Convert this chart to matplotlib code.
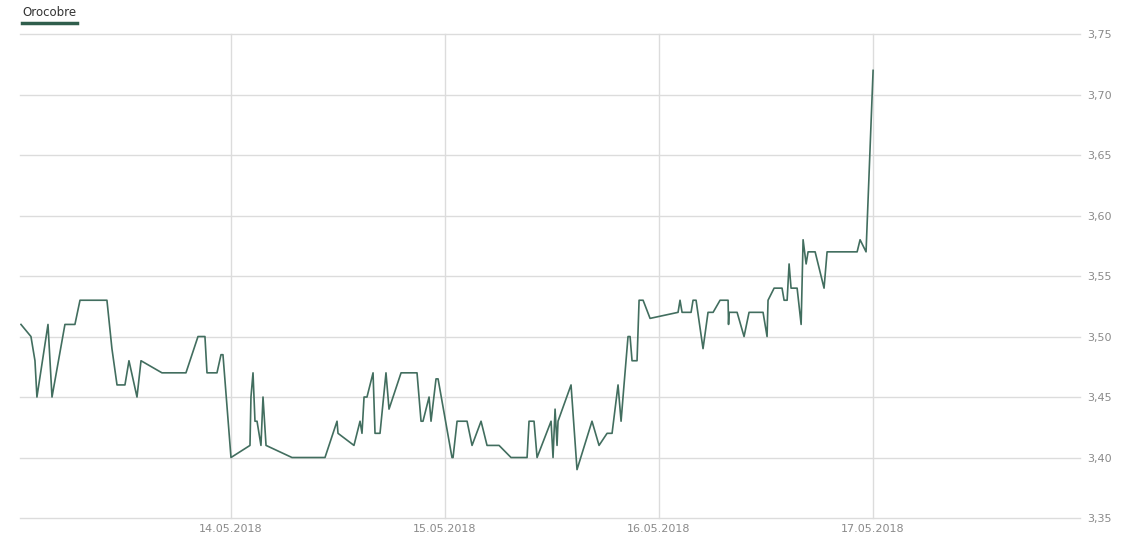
import numpy as np
import pandas as pd
import matplotlib
matplotlib.use("Agg")
import matplotlib.pyplot as plt
import matplotlib.dates as mdates
from matplotlib.ticker import FuncFormatter

# series: hours after 13.05.2018 00:00 and price
hours = [0.45, 1.57, 2.02, 2.24, 3.48, 3.93, 5.38, 6.50, 7.07, 10.09,
         10.65, 11.22, 12.11, 12.56, 13.46, 13.91, 16.26, 18.95, 20.30, 21.08,
         21.31, 22.43, 22.88, 23.10, 24.00, 26.13, 26.24, 26.47, 26.69, 26.92,
         27.36, 27.59, 27.93, 30.84, 34.54, 35.89, 36.00, 37.79, 38.47, 38.69,
         38.92, 39.25, 39.93, 40.15, 40.71, 41.38, 41.72, 43.07, 44.86, 45.31,
         45.53, 46.21, 46.43, 46.99, 47.22, 48.78, 48.90, 49.35, 50.47, 51.03,
         52.04, 52.71, 54.06, 55.40, 57.20, 57.42, 57.98, 58.32, 59.89, 60.11,
         60.34, 60.56, 60.67, 62.13, 62.80, 64.48, 65.27, 66.17, 66.73, 67.40,
         67.74, 68.07, 68.52, 68.75, 68.97, 69.53, 69.76, 70.21, 70.99, 74.13,
         74.35, 74.58, 75.59, 75.81, 76.15, 76.93, 77.49, 78.06, 78.84, 79.74,
         79.79, 79.85, 80.75, 81.53, 82.09, 83.66, 84.11, 84.22, 84.90, 85.79,
         86.02, 86.36, 86.58, 86.80, 87.48, 87.93, 88.15, 88.49, 88.71, 89.50,
         90.50, 90.84, 94.21, 94.54, 95.21, 96.00]
prices = [3.51, 3.50, 3.48, 3.45, 3.51, 3.45, 3.51, 3.51, 3.53, 3.53,
          3.49, 3.46, 3.46, 3.48, 3.45, 3.48, 3.47, 3.47, 3.50, 3.50,
          3.47, 3.47, 3.485, 3.485, 3.40, 3.41, 3.45, 3.47, 3.43, 3.43,
          3.41, 3.45, 3.41, 3.40, 3.40, 3.43, 3.42, 3.41, 3.43, 3.42,
          3.45, 3.45, 3.47, 3.42, 3.42, 3.47, 3.44, 3.47, 3.47, 3.43,
          3.43, 3.45, 3.43, 3.465, 3.465, 3.40, 3.40, 3.43, 3.43, 3.41,
          3.43, 3.41, 3.41, 3.40, 3.40, 3.43, 3.43, 3.40, 3.43, 3.40,
          3.44, 3.41, 3.43, 3.46, 3.39, 3.43, 3.41, 3.42, 3.42, 3.46,
          3.43, 3.46, 3.50, 3.50, 3.48, 3.48, 3.53, 3.53, 3.515, 3.52,
          3.53, 3.52, 3.52, 3.53, 3.53, 3.49, 3.52, 3.52, 3.53, 3.53,
          3.51, 3.52, 3.52, 3.50, 3.52, 3.52, 3.50, 3.53, 3.54, 3.54,
          3.53, 3.53, 3.56, 3.54, 3.54, 3.51, 3.58, 3.56, 3.57, 3.57,
          3.54, 3.57, 3.57, 3.58, 3.57, 3.72]
series_name = "Orocobre"
tick_days = ["2018-05-14", "2018-05-15", "2018-05-16", "2018-05-17"]
y_ticks = [3.35, 3.40, 3.45, 3.50, 3.55, 3.60, 3.65, 3.70, 3.75]

start = pd.Timestamp("2018-05-13")
times = start + pd.to_timedelta(hours, unit="h")

line_col = "#426e5f"
grid_col = "#dcdcdc"
text_col = "#8a8a8a"

fig = plt.figure(figsize=(11.29, 5.41), dpi=100)
ax = fig.add_axes([0.0177, 0.0425, 0.9389, 0.8945])

ax.plot(times, prices, color=line_col, lw=1.2, zorder=3)

ax.set_xlim(start + pd.Timedelta(hours=0.34), start + pd.Timedelta(hours=119.2))
ax.set_ylim(3.35, 3.75)

ax.set_xticks(pd.to_datetime(tick_days))
ax.xaxis.set_major_formatter(mdates.DateFormatter("%d.%m.%Y"))
ax.set_yticks(y_ticks)
ax.yaxis.set_major_formatter(FuncFormatter(lambda v, p: f"{v:.2f}".replace(".", ",")))
ax.yaxis.tick_right()

ax.grid(True, color=grid_col, lw=1.0, zorder=0)
for gl in ax.get_xgridlines() + ax.get_ygridlines():
    gl.set_clip_on(False)
for s in ax.spines.values():
    s.set_visible(False)
ax.tick_params(axis="both", length=0, labelsize=8, labelcolor=text_col)
ax.tick_params(axis="y", pad=5)
ax.tick_params(axis="x", pad=4)

# legend entry at top left
fig.text(22 / 1129, 1 - 12 / 541, series_name, fontsize=8.5, color="#333333",
         ha="left", va="center")
fig.add_artist(plt.Line2D([22 / 1129, 77 / 1129], [1 - 23 / 541, 1 - 23 / 541],
                          color="#2f5e4c", lw=2.5, transform=fig.transFigure))

fig.savefig("out.png", dpi=100)
